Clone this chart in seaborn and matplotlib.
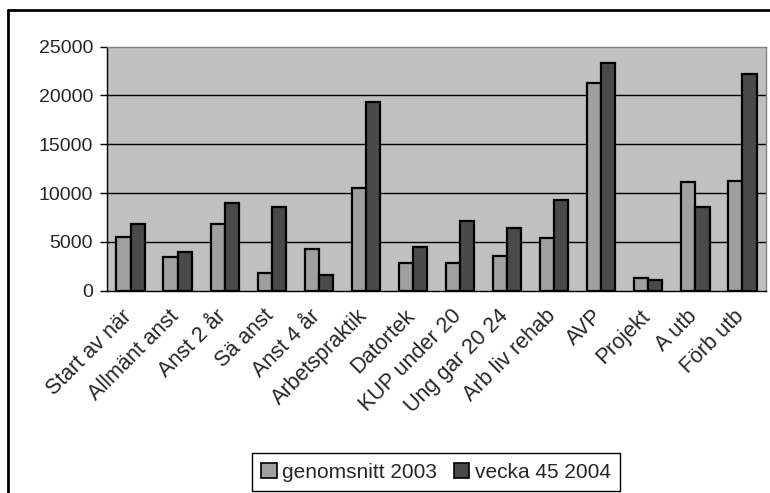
import numpy as np
import pandas as pd
import matplotlib
matplotlib.use("Agg")
import matplotlib.pyplot as plt
import matplotlib.transforms as mtransforms
from matplotlib.lines import Line2D
import seaborn as sns

# Data
categories = ["Start av när", "Allmänt anst", "Anst 2 år", "Sä anst", "Anst 4 år",
              "Arbetspraktik", "Datortek", "KUP under 20", "Ung gar 20 24",
              "Arb liv rehab", "AVP", "Projekt", "A utb", "Förb utb"]
avg_2003 = [5530, 3420, 6800, 1780, 4300, 10550, 2870, 2870, 3590, 5370, 21300, 1270, 11100, 11270]
week45_2004 = [6800, 3930, 8950, 8580, 1610, 19300, 4480, 7170, 6420, 9320, 23300, 1070, 8600, 22200]
series_names = ["genomsnitt 2003", "vecka 45 2004"]
y_ticks = [0, 5000, 10000, 15000, 20000, 25000]

df = pd.DataFrame({
    "kategori": categories * 2,
    "antal": avg_2003 + week45_2004,
    "serie": [series_names[0]] * len(categories) + [series_names[1]] * len(categories),
})

sns.set_style("white")
plt.rcParams["font.family"] = ["Liberation Sans", "DejaVu Sans"]

fig = plt.figure(figsize=(7.7, 4.93), dpi=100)
ax = fig.add_axes([107 / 770, 1 - 290.7 / 493, 659 / 770, 244 / 493])
ax.set_facecolor("#c0c0c0")

sns.barplot(data=df, x="kategori", y="antal", hue="serie", order=categories,
            hue_order=series_names, palette=["#a0a0a0", "#4a4a4a"],
            width=0.6, edgecolor="black", linewidth=1.6, saturation=1,
            ax=ax, legend=False)

ax.set_xlim(-0.5, len(categories) - 0.5)
ax.set_ylim(0, 25000)
ax.set_yticks(y_ticks)
ax.set_yticklabels([str(t) for t in y_ticks], fontsize=14)
for t in y_ticks[1:-1]:
    ax.axhline(t, color="black", lw=1, zorder=0.5)

# category labels drawn as text so they can sit a bit left/below the centre, like Excel
ax.set_xticks(np.arange(len(categories) + 1) - 0.5)
ax.set_xticklabels([])
ax.tick_params(axis="x", length=5, width=1, color="black", direction="out")
lab_tr = ax.get_xaxis_transform() + mtransforms.ScaledTranslation(-9 / 100, -15 / 100, fig.dpi_scale_trans)
for i, name in enumerate(categories):
    ax.text(i, 0, name, transform=lab_tr, rotation=45, ha="right", va="top",
            rotation_mode="anchor", fontsize=15.5)
ax.tick_params(axis="y", length=5, width=1, color="black", direction="out", left=True, pad=5)
ax.set_xlabel("")
ax.set_ylabel("")

for side in ["top", "right"]:
    ax.spines[side].set_color("#808080")
    ax.spines[side].set_linewidth(1)
for side in ["left", "bottom"]:
    ax.spines[side].set_color("black")
    ax.spines[side].set_linewidth(1)

# Outer chart-area frame (cropped at right and bottom)
fig.add_artist(Line2D([8 / 770, 1], [1 - 10 / 493, 1 - 10 / 493], transform=fig.transFigure,
                      color="black", lw=2))
fig.add_artist(Line2D([8 / 770, 8 / 770], [0, 1 - 10 / 493], transform=fig.transFigure,
                      color="black", lw=2))

handles = [plt.Rectangle((0, 0), 1, 1, facecolor=c, edgecolor="black", lw=1.2)
           for c in ["#a0a0a0", "#4a4a4a"]]
leg = fig.legend(handles, series_names, loc="center",
                 bbox_to_anchor=(436 / 770, 1 - 472 / 493), ncol=2, fontsize=15,
                 frameon=True, fancybox=False, edgecolor="black", framealpha=1,
                 handlelength=0.75, handleheight=0.75, handletextpad=0.25,
                 columnspacing=0.8, borderpad=0.45, borderaxespad=0)
leg.get_frame().set_linewidth(1)

fig.savefig("out.png", dpi=100)
